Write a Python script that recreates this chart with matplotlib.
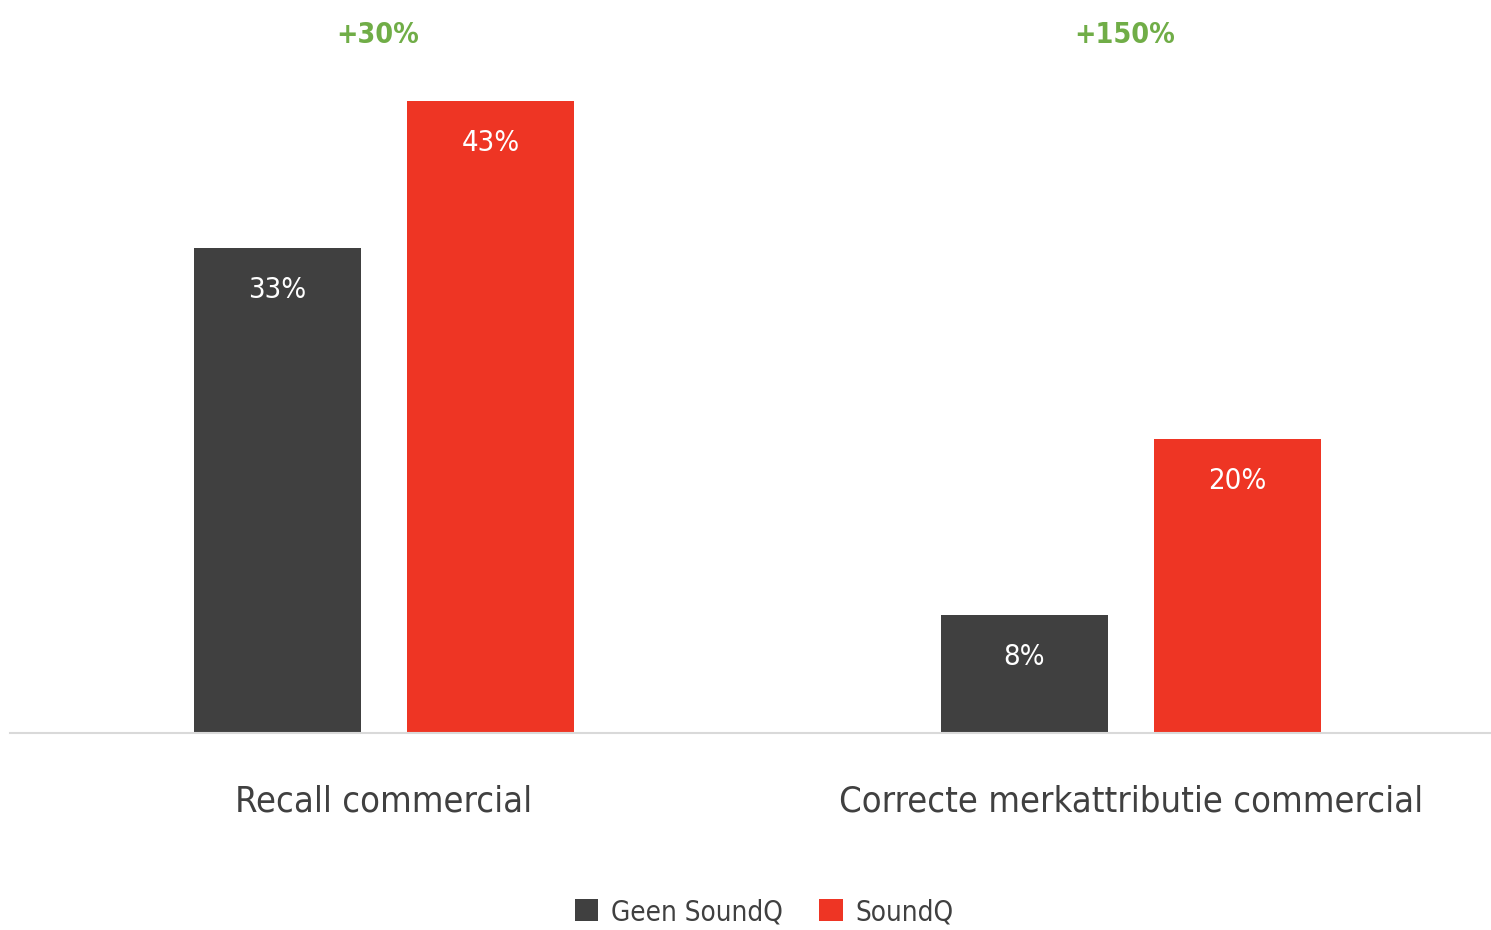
import numpy as np
import matplotlib.pyplot as plt
from matplotlib.transforms import blended_transform_factory

categories = ['Recall commercial', 'Correcte merkattributie commercial']
geen = [33, 8]
soundq = [43, 20]
series_names = ['Geen SoundQ', 'SoundQ']
uplift = ['+30%', '+150%']

plt.rcParams['font.family'] = ['DejaVu Sans']
plt.rcParams['font.stretch'] = 'condensed'

dark = '#404040'
red = '#EE3524'
green = '#70AD47'

fig = plt.figure(figsize=(14.91, 9.30), dpi=100)
ax = fig.add_axes([10/1491, 197/930, 1481/1491, 733/930])

x = np.arange(len(categories))
w = 0.2236
off = 0.1426
b1 = ax.bar(x - off, geen, w, color=dark, label=series_names[0])
b2 = ax.bar(x + off, soundq, w, color=red, label=series_names[1])

ax.set_xlim(-0.5007, 1.482)
ax.set_ylim(0, 49.87)

# value labels inside the bars
for bars, vals in [(b1, geen), (b2, soundq)]:
    for r, v in zip(bars, vals):
        ax.text(r.get_x() + r.get_width()/2, v - 2.85, f'{v}%', ha='center', va='center',
                color='white', fontsize=21)

# uplift above each group
tr = blended_transform_factory(ax.transData, ax.transAxes)
for xi, t in zip(x, uplift):
    ax.text(xi - 0.008, 1 - 35/733, t, transform=tr, ha='center', va='center',
            color=green, fontsize=20.5, fontweight='bold', clip_on=False)

ax.set_xticks(x)
ax.set_xticklabels(categories, fontsize=26, color=dark)
ax.tick_params(axis='x', length=0, pad=37)
ax.set_yticks([])
for s in ['top', 'left', 'right']:
    ax.spines[s].set_visible(False)
ax.spines['bottom'].set_color('#d9d9d9')
ax.spines['bottom'].set_linewidth(1.5)

fig.legend(handles=[b1, b2], loc='center', bbox_to_anchor=(764/1491, 1 - 912/930),
           ncol=2, frameon=False, fontsize=20, handlelength=0.85, handleheight=0.85,
           handletextpad=0.45, columnspacing=1.3, labelcolor=dark)

fig.savefig('out.png', dpi=100)
